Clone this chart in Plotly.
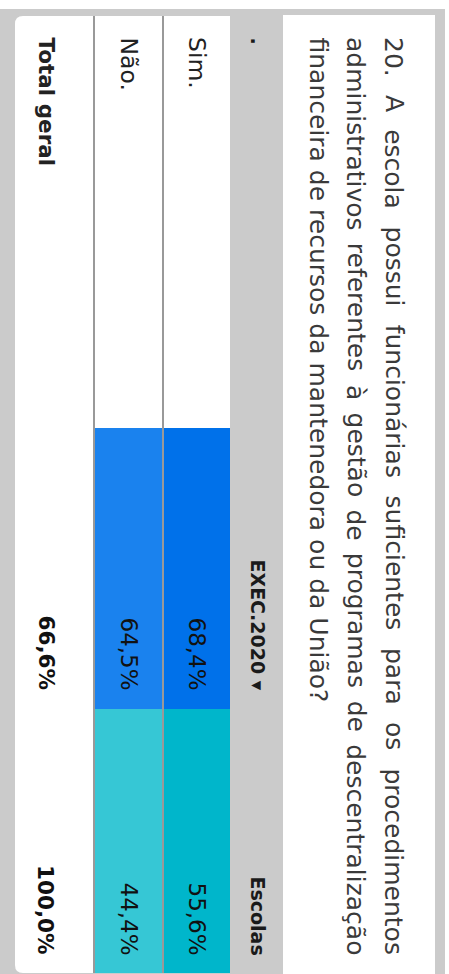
import plotly.graph_objects as go

# ---- data -------------------------------------------------------------
title_lines = [
    "20. A escola possui funcionárias suficientes para os procedimentos",
    "administrativos referentes à gestão de programas de descentralização",
    "financeira de recursos da mantenedora ou da União?",
]
row_labels = ["Sim.", "Não.", "Total geral"]
column_labels = ["EXEC.2020 ▾", "Escolas"]
exec_2020 = [68.4, 64.5, 66.6]
escolas = [55.6, 44.4, 100.0]

# ---- layout constants (page pixels, the table is drawn turned 90°) ----
W, H = 449, 974
FONT = "DejaVu Sans"
GRAY = "#CBCBCB"

row_band = {"Sim.": (163, 230), "Não.": (94, 163), "Total geral": (15, 94)}
row_text_x = {"Sim.": 197, "Não.": 129, "Total geral": 46}
col_band = [(428, 709), (709, 973)]
col_text_end = [690, 955]
col_scales = [
    [[0, "#1A82EE"], [1, "#0071EA"]],
    [[0, "#36C7D5"], [1, "#00B6CB"]],
]
label_start = 37
header_x = 258
title_x = [394, 356, 318]
title_span = (37, 955)

# DejaVu Sans advance widths (1/1000 em) for justifying the question text
ADV = {
    " ": 318, ".": 318, "?": 531, "A": 684, "U": 732,
    "a": 613, "b": 635, "c": 550, "d": 635, "e": 615, "f": 352, "g": 635,
    "h": 634, "i": 278, "j": 278, "k": 579, "l": 278, "m": 974, "n": 634,
    "o": 612, "p": 635, "q": 635, "r": 411, "s": 521, "t": 392, "u": 634,
    "v": 592, "w": 818, "x": 592, "y": 592, "z": 525,
    "á": 613, "à": 613, "ã": 613, "ç": 550,
}
for d in "0123456789":
    ADV[d] = 636


def text_width(s, size):
    return sum(ADV.get(ch, 600) for ch in s) * size / 1000.0


def pct(v):
    return f"{v:.1f}%".replace(".", ",")


fig = go.Figure()

# coloured cells of the two data columns (Sim./Não. rows)
body_rows = ["Não.", "Sim."]
x_edges = [row_band["Não."][0], row_band["Não."][1], row_band["Sim."][1]]
for ci, values in enumerate([exec_2020, escolas]):
    z_row = [values[row_labels.index(r)] for r in body_rows]
    fig.add_trace(go.Heatmap(
        x=x_edges,
        y=list(col_band[ci]),
        z=[z_row],
        zmin=min(z_row), zmax=max(z_row),
        colorscale=col_scales[ci],
        showscale=False,
        hoverinfo="skip",
    ))

shapes = [
    # grey frame
    dict(type="rect", x0=0, x1=445, y0=9, y1=H, fillcolor=GRAY,
         line=dict(width=0), layer="below"),
    # question box
    dict(type="rect", x0=283, x1=435, y0=15, y1=H, fillcolor="white",
         line=dict(width=0), layer="below"),
    # table body with rounded outer corners
    dict(type="path",
         path="M 230,16 L 23,16 Q 15,16 15,24 L 15,965 Q 15,973 23,973 L 230,973 Z",
         fillcolor="white", line=dict(width=0), layer="below"),
]
for x in (94, 163):
    shapes.append(dict(type="line", x0=x, x1=x, y0=16, y1=973,
                       line=dict(color="#999999", width=2), layer="above"))

ann = []


def add_text(text, x, y, size, color, bold=False, anchor="top"):
    ann.append(dict(
        text=f"<b>{text}</b>" if bold else text,
        x=x, y=y, xref="x", yref="y",
        xanchor="center", yanchor=anchor,
        textangle=90, showarrow=False,
        borderpad=0, borderwidth=0,
        font=dict(family=FONT, size=size, color=color),
    ))


# question text: two justified lines and a final ragged line
TSIZE = 25
for li, line in enumerate(title_lines):
    if li < len(title_lines) - 1:
        words = line.split(" ")
        widths = [text_width(w, TSIZE) for w in words]
        gap = (title_span[1] - title_span[0] - sum(widths)) / (len(words) - 1)
        pos = title_span[0]
        for w, wd in zip(words, widths):
            add_text(w, title_x[li], pos, TSIZE, "#3A3A3A")
            pos += wd + gap
    else:
        add_text(line, title_x[li], title_span[0], TSIZE, "#3A3A3A")

# header band
add_text(".", header_x, label_start, 19, "#1A1A1A", bold=True)
for ci, lab in enumerate(column_labels):
    add_text(lab, header_x, col_text_end[ci], 19, "#1A1A1A", bold=True,
             anchor="bottom")

# row labels and values
for ri, lab in enumerate(row_labels):
    total = lab == "Total geral"
    size = 21.5 if total else 23.5
    add_text(lab, row_text_x[lab], label_start, size, "#222222", bold=total)
    for ci, values in enumerate([exec_2020, escolas]):
        add_text(pct(values[ri]), row_text_x[lab], col_text_end[ci],
                 21.5 if total else 23, "#111111", bold=total, anchor="bottom")

fig.update_layout(
    width=W, height=H,
    margin=dict(l=0, r=0, t=0, b=0, pad=0),
    paper_bgcolor="white", plot_bgcolor="white",
    xaxis=dict(range=[0, W], visible=False, fixedrange=True),
    yaxis=dict(range=[H, 0], visible=False, fixedrange=True),
    shapes=shapes, annotations=ann, showlegend=False,
)

fig.write_html("out.html")
